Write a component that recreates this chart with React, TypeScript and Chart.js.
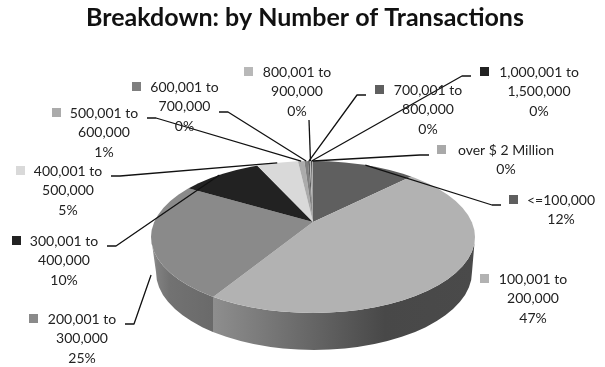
import React, { useEffect, useRef } from "react";
import { Chart, registerables } from "chart.js";

Chart.register(...registerables);

const TITLE = "Breakdown: by Number of Transactions";

const categories = [
  "<=100,000",
  "100,001 to 200,000",
  "200,001 to 300,000",
  "300,001 to 400,000",
  "400,001 to 500,000",
  "500,001 to 600,000",
  "600,001 to 700,000",
  "700,001 to 800,000",
  "800,001 to 900,000",
  "1,000,001 to 1,500,000",
  "over $ 2 Million",
];

// Share of transactions per bracket, in percent.
const shares = [11.7, 46.9, 25.3, 9.6, 4.6, 0.7, 0.4, 0.2, 0.15, 0.1, 0.1];

const sliceColors = [
  "#5f5f5f", "#b2b2b2", "#8a8a8a", "#222222", "#d9d9d9", "#ababab",
  "#7f7f7f", "#5f5f5f", "#b8b8b8", "#222222", "#a9a9a9",
];

// Where each callout sits: text centre, first line centre, swatch left edge,
// and the elbow of its leader line (null for a callout with no leader).
const calloutLayout = [
  { cx: 561, y: 200, swatch: 509, from: [501, 205], elbow: [492, 205], wall: false },
  { cx: 533, y: 279, swatch: 480, from: null, elbow: null, wall: false },
  { cx: 82, y: 319, swatch: 29, from: [125, 324], elbow: [134, 324], wall: true },
  { cx: 64, y: 241, swatch: 12, from: [107, 246], elbow: [116, 246], wall: false },
  { cx: 68, y: 171, swatch: 16, from: [111, 176], elbow: [120, 176], wall: false },
  { cx: 104, y: 113, swatch: 52, from: [147, 118], elbow: [156, 118], wall: false },
  { cx: 184.5, y: 87, swatch: 132, from: [219, 112], elbow: [228, 112], wall: false },
  { cx: 428, y: 90, swatch: 375, from: [366, 95], elbow: [357, 95], wall: false },
  { cx: 297, y: 72, swatch: 244, from: [309, 120], elbow: [309, 120], wall: false },
  { cx: 539, y: 72, swatch: 480, from: [471, 76], elbow: [462, 76], wall: false },
  { cx: 506, y: 150, swatch: 437, from: [429, 155], elbow: [420, 155], wall: false },
];

const FONT = "Lato, Carlito, Calibri, sans-serif";
const INK = "#222222";

// Perspective pie: the top face is an ellipse whose apex sits above its centre,
// so the upper and lower halves are squashed by different ratios.
const face = { cx: 313, cy: 237, rx: 162, ry: 76 };
const base = { cx: 314, cy: 272, rx: 158, ry: 78 };
const apex = { x: 313, y: 222 };
const squashUp = 0.42;
const squashDown = 0.46;
const WALL_DROP = 36;

// Point where a slice angle leaves the top face of the pie.
function rimPoint(angle: number) {
  const k = Math.sin(angle) < 0 ? squashUp : squashDown;
  const dx = Math.cos(angle);
  const dy = Math.sin(angle) * k;
  const ox = apex.x - face.cx;
  const oy = apex.y - face.cy;
  const a = (dx * dx) / face.rx ** 2 + (dy * dy) / face.ry ** 2;
  const b = 2 * ((ox * dx) / face.rx ** 2 + (oy * dy) / face.ry ** 2);
  const c = (ox * ox) / face.rx ** 2 + (oy * oy) / face.ry ** 2 - 1;
  const t = (-b + Math.sqrt(b * b - 4 * a * c)) / (2 * a);
  return { x: apex.x + dx * t, y: apex.y + dy * t };
}

function wallPath(ctx: CanvasRenderingContext2D) {
  ctx.beginPath();
  ctx.ellipse(face.cx, face.cy, face.rx, face.ry, 0, Math.PI, 0, true);
  ctx.lineTo(base.cx + base.rx, base.cy);
  ctx.ellipse(base.cx, base.cy, base.rx, base.ry, 0, 0, Math.PI, false);
  ctx.closePath();
}

function drawWall(ctx: CanvasRenderingContext2D, rawSplit: number) {
  const splitX = Math.round(rawSplit);
  const left = ctx.createLinearGradient(face.cx - face.rx, 0, splitX, 0);
  left.addColorStop(0, "#9a9a9a");
  left.addColorStop(0.1, "#808080");
  left.addColorStop(0.3, "#727272");
  left.addColorStop(1, "#6a6a6a");
  const right = ctx.createLinearGradient(splitX, 0, face.cx + face.rx, 0);
  right.addColorStop(0, "#8e8e8e");
  right.addColorStop(0.656, "#484848");
  right.addColorStop(1, "#4a4a4a");

  ctx.save();
  wallPath(ctx);
  ctx.clip();
  ctx.fillStyle = left;
  ctx.fillRect(0, 0, splitX, 367);
  ctx.fillStyle = right;
  ctx.fillRect(splitX, 0, 605 - splitX, 367);
  ctx.restore();
}

const piePerspective = {
  id: "piePerspective",
  beforeDatasetDraw(chart: any, args: any) {
    const ctx: CanvasRenderingContext2D = chart.ctx;
    const meta = args.meta;
    const arcs = meta.data;
    const first = arcs[0];
    const scale = 320 / first.outerRadius;

    drawWall(ctx, rimPoint(arcs[1].endAngle).x);

    const half = (top: number, height: number, k: number) => {
      ctx.save();
      ctx.beginPath();
      ctx.ellipse(face.cx, face.cy, face.rx, face.ry, 0, 0, Math.PI * 2);
      ctx.clip();
      ctx.beginPath();
      ctx.rect(0, top, 605, height);
      ctx.clip();
      ctx.translate(apex.x, apex.y);
      ctx.scale(scale, scale * k);
      ctx.translate(-first.x, -first.y);
      meta.controller.draw();
      ctx.restore();
    };
    half(0, apex.y, squashUp);
    half(apex.y, 367 - apex.y, squashDown);
    return false;
  },
  afterDatasetsDraw(chart: any) {
    const ctx: CanvasRenderingContext2D = chart.ctx;
    const arcs = chart.getDatasetMeta(0).data;
    const total = shares.reduce((sum, v) => sum + v, 0);
    const lineGap = 19.6;

    ctx.save();
    ctx.strokeStyle = "#111111";
    ctx.lineWidth = 1.3;
    ctx.lineJoin = "round";
    calloutLayout.forEach((spot, i) => {
      if (!spot.from || !spot.elbow) return;
      const mid = (arcs[i].startAngle + arcs[i].endAngle) / 2;
      const end = rimPoint(mid);
      ctx.beginPath();
      ctx.moveTo(spot.from[0], spot.from[1]);
      ctx.lineTo(spot.elbow[0], spot.elbow[1]);
      ctx.lineTo(end.x, end.y + (spot.wall ? WALL_DROP : 0));
      ctx.stroke();
    });

    ctx.font = `14px ${FONT}`;
    ctx.textAlign = "center";
    ctx.textBaseline = "middle";
    calloutLayout.forEach((spot, i) => {
      const name = categories[i];
      const cut = name.indexOf(" to ");
      const lines = cut < 0 ? [name] : [name.slice(0, cut + 3), name.slice(cut + 4)];
      lines.push(`${Math.round((shares[i] / total) * 100)}%`);

      ctx.fillStyle = sliceColors[i];
      ctx.fillRect(spot.swatch, spot.y - 5, 9, 9);
      ctx.fillStyle = INK;
      lines.forEach((text, n) => ctx.fillText(text, spot.cx, spot.y + n * lineGap));
    });
    ctx.restore();
  },
};

export default function App() {
  const canvasRef = useRef<HTMLCanvasElement>(null);

  useEffect(() => {
    const chart = new Chart(canvasRef.current!, {
      type: "pie",
      data: {
        labels: categories,
        datasets: [{ data: shares, backgroundColor: sliceColors, borderWidth: 0 }],
      },
      options: {
        animation: false,
        responsive: false,
        events: [],
        layout: { padding: { left: 5 } },
        plugins: {
          legend: { display: false },
          tooltip: { enabled: false },
          title: {
            display: true,
            text: TITLE,
            color: "#111111",
            font: { family: FONT, size: 25, weight: "bold" },
            padding: { top: 3, bottom: 4 },
          },
        },
      },
      plugins: [piePerspective],
    } as any);
    return () => chart.destroy();
  }, []);

  return (
    <div style={{ position: "fixed", left: 0, top: 0, width: 605, height: 367, background: "#fff" }}>
      <canvas ref={canvasRef} width={605} height={367} style={{ display: "block" }} />
    </div>
  );
}
